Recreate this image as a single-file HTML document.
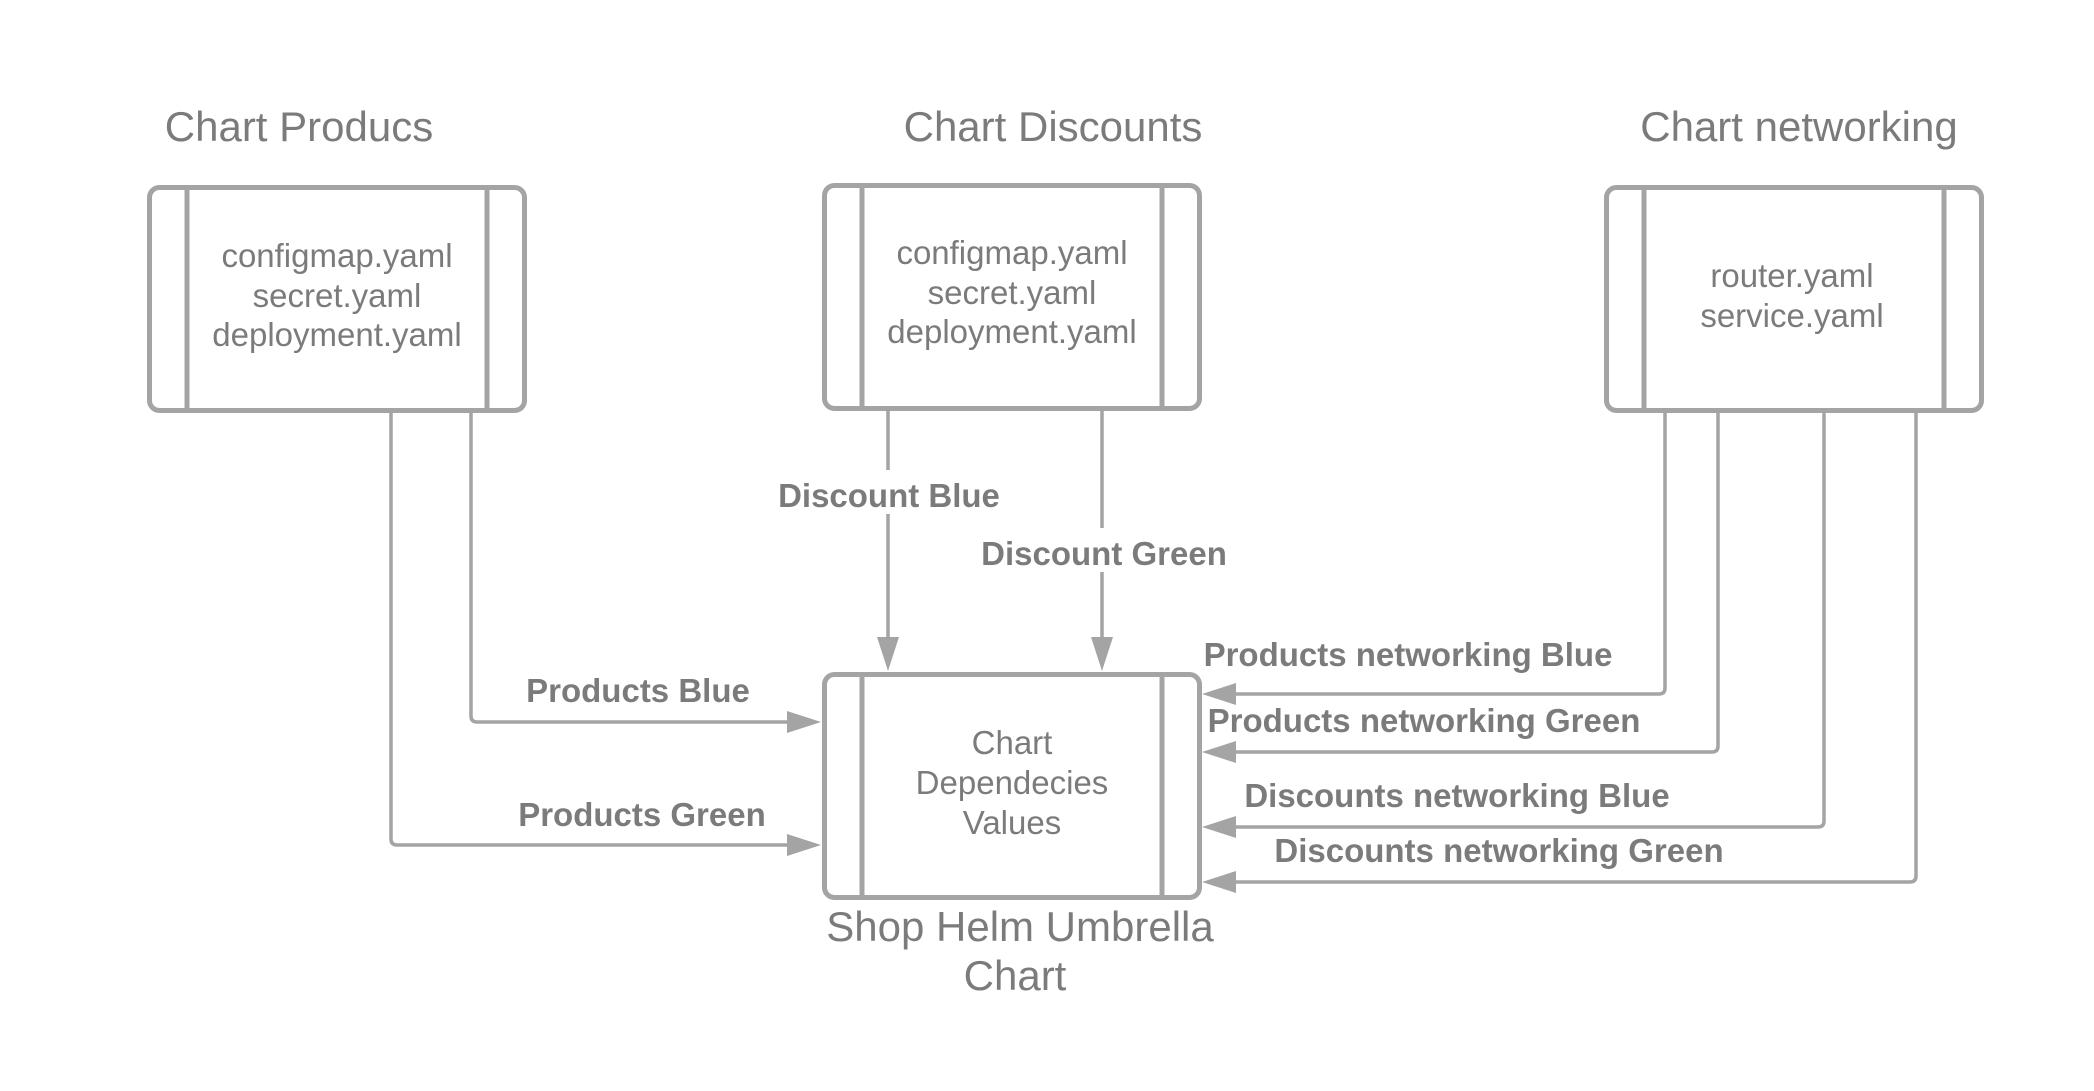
<!DOCTYPE html>
<html><head><meta charset="utf-8"><style>
html,body{margin:0;padding:0;background:#fff;}
svg{display:block;}
text{font-family:"Liberation Sans",sans-serif;fill:#7b7b7b;}
.t{font-size:42px;text-anchor:middle;}
.b{font-size:33px;text-anchor:middle;}
.l{font-size:33px;font-weight:bold;text-anchor:middle;}
</style></head><body>
<svg width="2094" height="1091" viewBox="0 0 2094 1091" xmlns="http://www.w3.org/2000/svg">
<g fill="none" stroke="#a4a4a4" stroke-width="5">
<rect x="149.5" y="187.5" width="375" height="223" rx="10"/>
<line x1="187" y1="187.5" x2="187" y2="410.5"/><line x1="487" y1="187.5" x2="487" y2="410.5"/>
<rect x="824.5" y="185.5" width="375" height="223" rx="10"/>
<line x1="862" y1="185.5" x2="862" y2="408.5"/><line x1="1162" y1="185.5" x2="1162" y2="408.5"/>
<rect x="1606.5" y="187.5" width="375" height="223" rx="10"/>
<line x1="1644" y1="187.5" x2="1644" y2="410.5"/><line x1="1944" y1="187.5" x2="1944" y2="410.5"/>
<rect x="824.5" y="674.5" width="375" height="223" rx="10"/>
<line x1="862" y1="674.5" x2="862" y2="897.5"/><line x1="1162" y1="674.5" x2="1162" y2="897.5"/>
</g>
<g fill="none" stroke="#a4a4a4" stroke-width="3.5" stroke-linejoin="round">
<path d="M471 413 V716 Q471 722 477 722 H790"/>
<path d="M391 413 V839 Q391 845 397 845 H790"/>
<path d="M888 411 V638"/>
<path d="M1102 411 V638"/>
<path d="M1665 413 V688 Q1665 694 1659 694 H1234"/>
<path d="M1718 413 V746 Q1718 752 1712 752 H1234"/>
<path d="M1824 413 V821 Q1824 827 1818 827 H1234"/>
<path d="M1916 413 V876 Q1916 882 1910 882 H1234"/>
</g>
<g fill="#a4a4a4">
<polygon points="821,722 787,711 787,733"/>
<polygon points="821,845 787,834 787,856"/>
<polygon points="888,671 877,637 899,637"/>
<polygon points="1102,671 1091,637 1113,637"/>
<polygon points="1202,694 1236,683 1236,705"/>
<polygon points="1202,752 1236,741 1236,763"/>
<polygon points="1202,827 1236,816 1236,838"/>
<polygon points="1202,882 1236,871 1236,893"/>
</g>
<rect x="765" y="470" width="250" height="44" fill="#fff"/>
<rect x="970" y="528" width="265" height="44" fill="#fff"/>
<text class="t" x="299" y="141">Chart Producs</text>
<text class="t" x="1053" y="141">Chart Discounts</text>
<text class="t" x="1799" y="141">Chart networking</text>
<text class="b" x="337" y="267">configmap.yaml</text>
<text class="b" x="337" y="307">secret.yaml</text>
<text class="b" x="337" y="346">deployment.yaml</text>
<text class="b" x="1012" y="264">configmap.yaml</text>
<text class="b" x="1012" y="304">secret.yaml</text>
<text class="b" x="1012" y="343">deployment.yaml</text>
<text class="b" x="1792" y="287">router.yaml</text>
<text class="b" x="1792" y="327">service.yaml</text>
<text class="b" x="1012" y="754">Chart</text>
<text class="b" x="1012" y="794">Dependecies</text>
<text class="b" x="1012" y="834">Values</text>
<text class="t" x="1020" y="941">Shop Helm Umbrella</text>
<text class="t" x="1015" y="990">Chart</text>
<text class="l" x="638" y="702">Products Blue</text>
<text class="l" x="642" y="826">Products Green</text>
<text class="l" x="889" y="507">Discount Blue</text>
<text class="l" x="1104" y="565">Discount Green</text>
<text class="l" x="1408" y="666">Products networking Blue</text>
<text class="l" x="1424" y="732">Products networking Green</text>
<text class="l" x="1457" y="807">Discounts networking Blue</text>
<text class="l" x="1499" y="862">Discounts networking Green</text>
</svg>
</body></html>
